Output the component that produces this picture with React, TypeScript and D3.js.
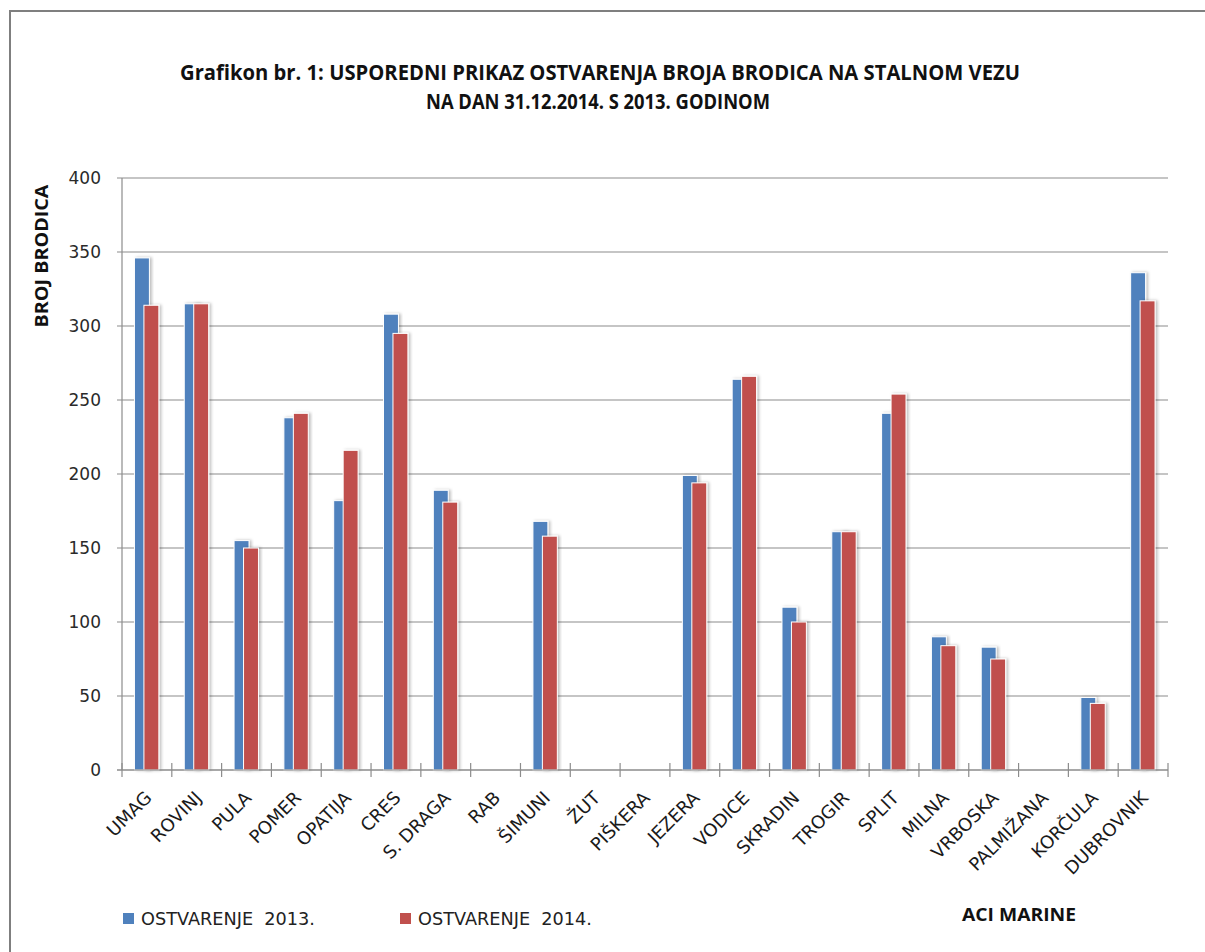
import React, { useRef, useEffect } from "react";
import * as d3 from "d3";

const marinas = [
  "UMAG", "ROVINJ", "PULA", "POMER", "OPATIJA", "CRES", "S. DRAGA", "RAB", "ŠIMUNI", "ŽUT",
  "PIŠKERA", "JEZERA", "VODICE", "SKRADIN", "TROGIR", "SPLIT", "MILNA", "VRBOSKA", "PALMIŽANA",
  "KORČULA", "DUBROVNIK",
];
const values2013 = [346, 315, 155, 238, 182, 308, 189, 0, 168, 0, 0, 199, 264, 110, 161, 241, 90, 83, 0, 49, 336];
const values2014 = [314, 315, 150, 241, 216, 295, 181, 0, 158, 0, 0, 194, 266, 100, 161, 254, 84, 75, 0, 45, 317];
const yTicks = [0, 50, 100, 150, 200, 250, 300, 350, 400];
const seriesNames = ["OSTVARENJE  2013.", "OSTVARENJE  2014."];
const colors = ["#4f81bd", "#c0504d"];

const App = () => {
  const svgRef = useRef<SVGSVGElement>(null);

  useEffect(() => {
    const svg = d3.select(svgRef.current);
    svg.selectAll("*").remove();

    const width = 1205;
    const height = 952;
    const left = 122;
    const right = 1168;
    const top = 178;
    const bottom = 770;

    svg.attr("width", width).attr("height", height);

    // soft shadow behind bars
    const defs = svg.append("defs");
    const f = defs.append("filter").attr("id", "shadow").attr("x", "-30%").attr("y", "-5%").attr("width", "160%").attr("height", "110%");
    f.append("feDropShadow").attr("dx", 2).attr("dy", 0).attr("stdDeviation", 1.5).attr("flood-color", "#000").attr("flood-opacity", 0.25);

    svg.append("rect").attr("width", width).attr("height", height).attr("fill", "#fff");

    // outer frame
    svg.append("rect")
      .attr("x", 10)
      .attr("y", 11)
      .attr("width", 1210)
      .attr("height", 960)
      .attr("fill", "none")
      .attr("stroke", "#7f7f7f")
      .attr("stroke-width", 2);

    const x = d3.scaleBand().domain(marinas).range([left, right]).paddingInner(0).paddingOuter(0);
    const y = d3.scaleLinear().domain([0, 400]).range([bottom, top]);
    const bw = x.bandwidth();

    // grid
    svg.append("g")
      .selectAll("line")
      .data(yTicks)
      .enter()
      .append("line")
      .attr("x1", left - 5)
      .attr("x2", right)
      .attr("y1", (d) => y(d))
      .attr("y2", (d) => y(d))
      .attr("stroke", "#8c8c8c")
      .attr("stroke-width", 1.2);

    svg.append("g")
      .selectAll("text")
      .data(yTicks)
      .enter()
      .append("text")
      .attr("x", 101)
      .attr("y", (d) => y(d))
      .attr("dy", "0.36em")
      .attr("text-anchor", "end")
      .style("font-family", "DejaVu Sans")
      .style("font-size", "17px")
      .attr("fill", "#2a2a2a")
      .text((d) => d);

    // y axis line
    svg.append("line")
      .attr("x1", left).attr("x2", left)
      .attr("y1", top).attr("y2", bottom)
      .attr("stroke", "#8c8c8c").attr("stroke-width", 1.2);

    // bars
    const bars = [
      { vals: values2013, off: 0.25, color: colors[0] },
      { vals: values2014, off: 0.44, color: colors[1] },
    ];
    bars.forEach((s) => {
      svg.append("g")
        .selectAll("rect")
        .data(marinas.map((m, i) => ({ m, v: s.vals[i] })).filter((d) => d.v > 0))
        .enter()
        .append("rect")
        .attr("x", (d) => (x(d.m) as number) + bw * s.off)
        .attr("y", (d) => y(d.v))
        .attr("width", bw * 0.3)
        .attr("height", (d) => bottom - y(d.v))
        .attr("fill", s.color)
        .attr("stroke", "#fff")
        .attr("stroke-width", 1)
        .attr("filter", "url(#shadow)");
    });

    // x axis
    svg.append("line")
      .attr("x1", left - 5).attr("x2", right)
      .attr("y1", bottom).attr("y2", bottom)
      .attr("stroke", "#8c8c8c").attr("stroke-width", 1.2);

    const edges = marinas.map((m) => x(m) as number).concat([right]);
    svg.append("g")
      .selectAll("line")
      .data(edges)
      .enter()
      .append("line")
      .attr("x1", (d) => d).attr("x2", (d) => d)
      .attr("y1", bottom - 7).attr("y2", bottom + 7)
      .attr("stroke", "#8c8c8c").attr("stroke-width", 1.2);

    svg.append("g")
      .selectAll("text")
      .data(marinas)
      .enter()
      .append("text")
      .attr("transform", (d) => `translate(${(x(d) as number) + bw / 2 + 6},${799}) rotate(-45)`)
      .attr("text-anchor", "end")
      .style("font-family", "DejaVu Sans")
      .style("font-size", "18px")
      .attr("fill", "#1a1a1a")
      .text((d) => d);

    // titles
    const title = svg.append("g").style("font-family", "Open Sans").style("font-weight", "bold").attr("fill", "#111");
    title.append("text")
      .attr("x", 600).attr("y", 80)
      .attr("text-anchor", "middle")
      .attr("textLength", 840).attr("lengthAdjust", "spacingAndGlyphs")
      .style("font-size", "21px")
      .text("Grafikon br. 1: USPOREDNI PRIKAZ OSTVARENJA BROJA BRODICA NA STALNOM VEZU");
    title.append("text")
      .attr("x", 598).attr("y", 109)
      .attr("text-anchor", "middle")
      .attr("textLength", 344).attr("lengthAdjust", "spacingAndGlyphs")
      .style("font-size", "21px")
      .text("NA DAN 31.12.2014. S 2013. GODINOM");

    svg.append("text")
      .attr("transform", "translate(48,256) rotate(-90)")
      .attr("text-anchor", "middle")
      .attr("textLength", 143).attr("lengthAdjust", "spacingAndGlyphs")
      .style("font-family", "Open Sans")
      .style("font-weight", "bold")
      .style("font-size", "18px")
      .attr("fill", "#111")
      .text("BROJ BRODICA");

    svg.append("text")
      .attr("x", 962).attr("y", 921)
      .attr("textLength", 114).attr("lengthAdjust", "spacingAndGlyphs")
      .style("font-family", "Open Sans")
      .style("font-weight", "bold")
      .style("font-size", "18px")
      .attr("fill", "#111")
      .text("ACI MARINE");

    // legend
    const legendX = [123, 400];
    const lg = svg.append("g")
      .selectAll("g")
      .data(seriesNames)
      .enter()
      .append("g")
      .attr("transform", (d, i) => `translate(${legendX[i]},913)`);
    lg.append("rect").attr("width", 11).attr("height", 11).attr("fill", (d, i) => colors[i]);
    lg.append("text")
      .attr("x", 18).attr("y", 12)
      .attr("textLength", 174).attr("lengthAdjust", "spacingAndGlyphs")
      .style("font-family", "DejaVu Sans")
      .style("font-size", "18px")
      .style("white-space", "pre")
      .attr("fill", "#222")
      .text((d) => d);
  }, []);

  return (
    <div style={{ position: "absolute", left: 0, top: 0 }}>
      <svg ref={svgRef} style={{ display: "block" }}></svg>
    </div>
  );
};

export default App;
